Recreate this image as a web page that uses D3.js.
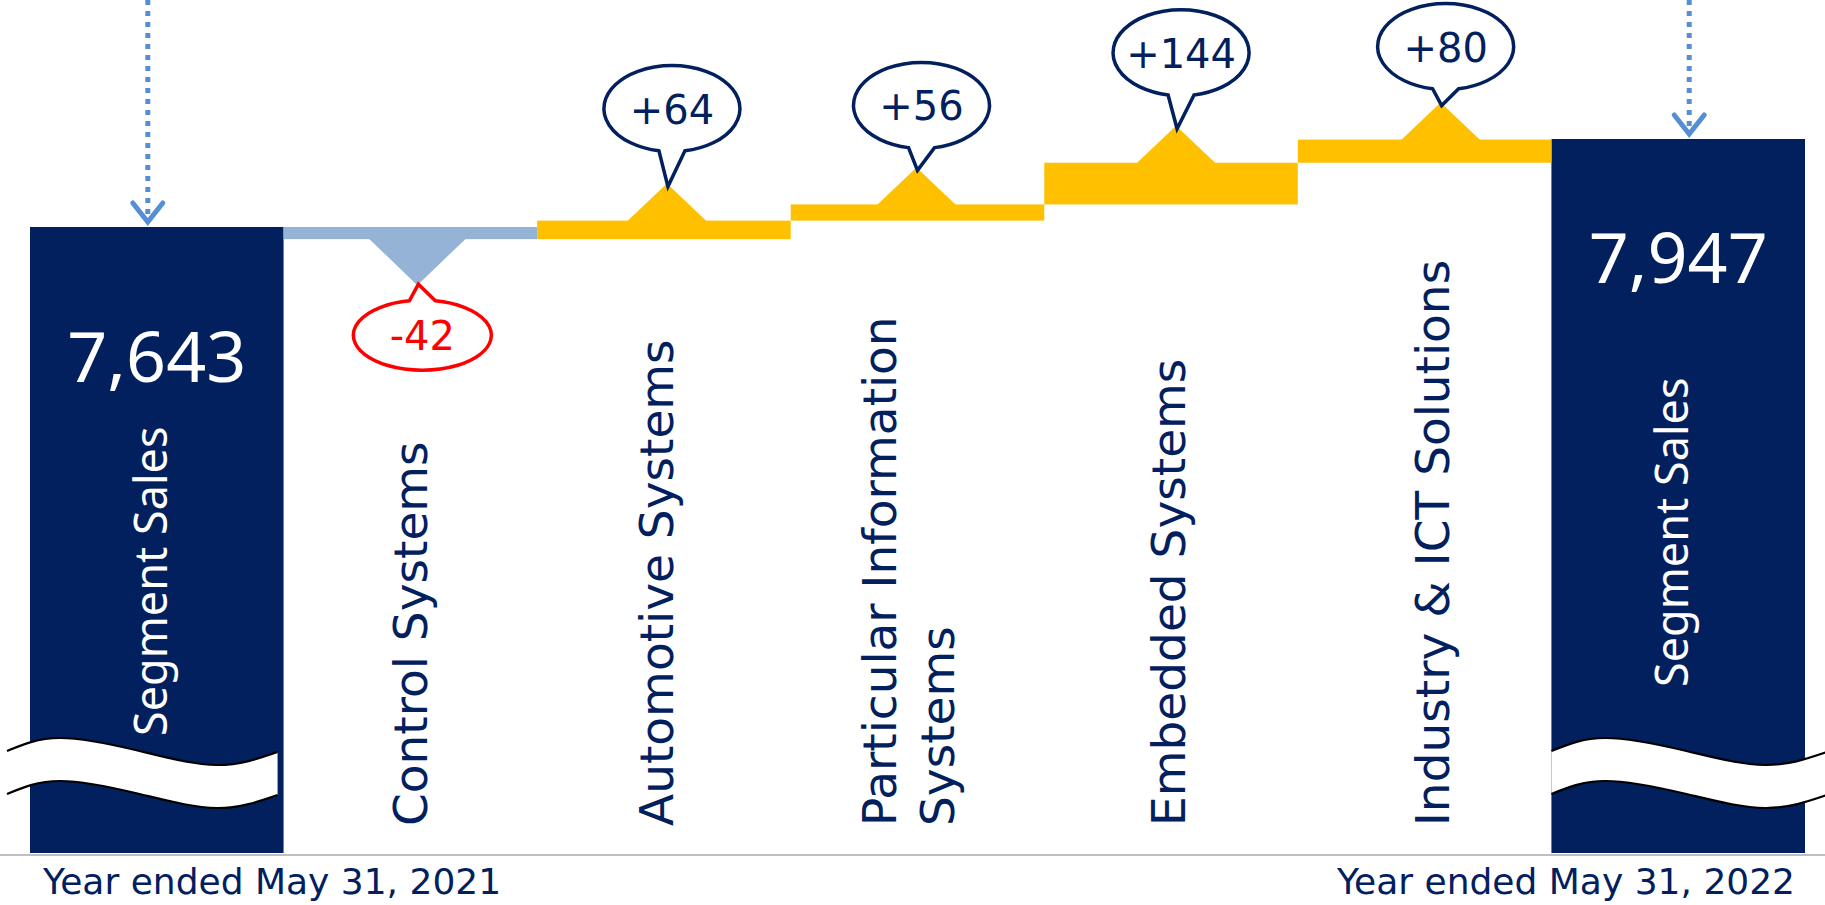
<!DOCTYPE html>
<html>
<head>
<meta charset="utf-8">
<script src="https://cdn.jsdelivr.net/npm/d3@7"></script>
<style>
html, body { margin: 0; padding: 0; background: #fff; overflow: hidden; }
svg { display: block; font-family: "Noto Sans", "Open Sans", sans-serif; }
</style>
</head>
<body>
<script>
// Segment sales bridge, FY2021 -> FY2022
const segments = ['Control Systems', 'Automotive Systems', 'Particular Information Systems', 'Embedded Systems', 'Industry & ICT Solutions'];
const segmentLines = [['Control Systems'], ['Automotive Systems'], ['Particular Information', 'Systems'], ['Embedded Systems'], ['Industry & ICT Solutions']];
const changes = [-42, 64, 56, 144, 80];
const changeLabels = ['-42', '+64', '+56', '+144', '+80'];
const totals = [7643, 7947];
const totalLabels = ['7,643', '7,947'];
const totalName = 'Segment Sales';
const periods = ['Year ended May 31, 2021', 'Year ended May 31, 2022'];

const W = 1825, H = 905;
const NAVY = '#02205e', YELLOW = '#ffc000', LIGHT = '#95b3d7', ARROW = '#558ed5';
const VFONT = '"DejaVu Sans", Verdana, sans-serif';

const svg = d3.select('body').append('svg').attr('width', W).attr('height', H);

// running totals for the floating bars
let run = totals[0];
const steps = changes.map((d, i) => {
    const from = run;
    run += d;
    return { key: segments[i], from, to: run, d, label: changeLabels[i], lines: segmentLines[i], i };
});

const keys = ['start'].concat(segments, ['end']);
const x = d3.scaleBand().domain(keys).range([30, 1805]).padding(0);
const bw = x.bandwidth();
// broken axis: bottom of the plot sits at 5,480
const y = d3.scaleLinear().domain([5480, totals[1]]).range([853, 139]);
const base = y.range()[0];

// layout tweaks
const tipShift = [7, 3, -1, 5, 16];
const bubbleRise = [50, -75, -62, -73, -56];
const labelShift = [0, -8, -9, -3, 7];

// baseline
svg.append('line')
    .attr('x1', 0).attr('x2', W).attr('y1', 855).attr('y2', 855)
    .attr('stroke', '#bfbfbf').attr('stroke-width', 2);

// total bars
const ends = [
    { key: 'start', v: totals[0], label: totalLabels[0], numDy: 155, nameY: 736, arrowDx: -9 },
    { key: 'end', v: totals[1], label: totalLabels[1], numDy: 144, nameY: 687, arrowDx: 11 }
];
svg.selectAll('rect.total').data(ends).join('rect')
    .attr('class', 'total')
    .attr('x', d => x(d.key)).attr('width', bw)
    .attr('y', d => y(d.v)).attr('height', d => base - y(d.v))
    .attr('fill', NAVY);

// floating bars
svg.selectAll('rect.step').data(steps).join('rect')
    .attr('class', 'step')
    .attr('x', d => x(d.key)).attr('width', bw)
    .attr('y', d => y(Math.max(d.from, d.to)))
    .attr('height', d => Math.abs(y(d.from) - y(d.to)))
    .attr('fill', d => d.d < 0 ? LIGHT : YELLOW);

// peak markers
steps.forEach(d => {
    d.tx = x(d.key) + bw / 2 + tipShift[d.i];
    const b = y(d.to);
    if (d.d >= 0) {
        d.ty = b - 37;
        d.tri = [[d.tx - 40, b + 1], [d.tx, d.ty], [d.tx + 40, b + 1]];
    } else {
        d.ty = b + 46;
        d.tri = [[d.tx - 49, b - 1], [d.tx, d.ty], [d.tx + 49, b - 1]];
    }
});
svg.selectAll('path.tri').data(steps).join('path')
    .attr('class', 'tri')
    .attr('d', d => d3.line()(d.tri) + 'Z')
    .attr('fill', d => d.d < 0 ? LIGHT : YELLOW);

// callout bubbles
function bubblePath(cx, cy, rx, ry, tipX, tipY, down) {
    const tw = 13;
    const h = ry * Math.sqrt(1 - (tw / rx) * (tw / rx));
    if (down) {
        return `M${cx + tw},${cy + h} A${rx},${ry} 0 1 0 ${cx - tw},${cy + h} L${tipX},${tipY} Z`;
    }
    return `M${cx - tw},${cy - h} A${rx},${ry} 0 1 0 ${cx + tw},${cy - h} L${tipX},${tipY} Z`;
}
const bubbles = svg.selectAll('g.bubble').data(steps).join('g').attr('class', 'bubble');
bubbles.append('path')
    .attr('d', d => {
        const cx = d.tx + 5, cy = d.ty + bubbleRise[d.i];
        const pos = d.d >= 0;
        return bubblePath(cx, cy, pos ? 68 : 69, pos ? 43 : 35, d.tx + 1, d.ty + (pos ? 3 : -1), pos);
    })
    .attr('fill', '#fff')
    .attr('stroke', d => d.d < 0 ? '#ff0000' : NAVY)
    .attr('stroke-width', 3.5)
    .attr('stroke-linejoin', 'miter');
bubbles.append('text')
    .attr('x', d => d.tx + 5)
    .attr('y', d => d.ty + bubbleRise[d.i] + 15)
    .attr('text-anchor', 'middle')
    .attr('font-family', VFONT)
    .attr('font-size', 40)
    .attr('fill', d => d.d < 0 ? '#ff0000' : NAVY)
    .text(d => d.label);

// segment names
const names = svg.selectAll('g.name').data(steps).join('g')
    .attr('class', 'name')
    .attr('transform', d => `translate(${x(d.key) + bw / 2 + labelShift[d.i]},826) rotate(-90)`);
names.each(function (d) {
    const n = d.lines.length;
    d3.select(this).selectAll('text').data(d.lines).join('text')
        .attr('x', 0)
        .attr('y', (t, j) => (j - (n - 1) / 2) * 58)
        .attr('dy', '0.36em')
        .attr('font-family', VFONT)
        .attr('font-size', 47)
        .attr('fill', NAVY)
        .text(t => t);
});

// totals text
svg.selectAll('text.num').data(ends).join('text')
    .attr('class', 'num')
    .attr('x', d => x(d.key) + bw / 2)
    .attr('y', d => y(d.v) + d.numDy)
    .attr('text-anchor', 'middle')
    .attr('font-size', 70)
    .attr('fill', '#fff')
    .text(d => d.label);
svg.selectAll('text.tname').data(ends).join('text')
    .attr('class', 'tname')
    .attr('transform', d => `translate(${x(d.key) + bw / 2 - 6},${d.nameY}) rotate(-90)`)
    .attr('dy', '0.36em')
    .attr('font-size', 45)
    .attr('fill', '#fff')
    .text(totalName);

// wave breaks
const waveShape = [[0, 0], [0.196, -13], [0.49, 0], [0.775, 14], [1, 1]];
const waveLine = d3.line().curve(d3.curveNatural);
[{ x0: 7, x1: x('start') + bw - 6 }, { x0: x('end'), x1: W + 2 }].forEach(w => {
    const ww = w.x1 - w.x0;
    const top = waveShape.map(p => [w.x0 + p[0] * ww, 751 + p[1]]);
    const bot = waveShape.map(p => [w.x0 + p[0] * ww, 794 + p[1]]);
    const area = waveLine(top) + 'L' + waveLine(bot.slice().reverse()).slice(1) + 'Z';
    svg.append('path').attr('d', area).attr('fill', '#fff');
    [top, bot].forEach(c => svg.append('path')
        .attr('d', waveLine(c)).attr('fill', 'none')
        .attr('stroke', '#000').attr('stroke-width', 2.2));
});

// dotted arrows
ends.forEach(d => {
    const ax = x(d.key) + bw / 2 + d.arrowDx;
    const tip = y(d.v) - 5;
    svg.append('line')
        .attr('x1', ax).attr('x2', ax).attr('y1', 0).attr('y2', tip - 4)
        .attr('stroke', ARROW).attr('stroke-width', 5).attr('stroke-dasharray', '5 6');
    svg.append('path')
        .attr('d', d3.line()([[ax - 15, tip - 19], [ax, tip], [ax + 15, tip - 19]]))
        .attr('fill', 'none').attr('stroke', ARROW).attr('stroke-width', 5)
        .attr('stroke-linecap', 'round');
});

// period labels
svg.append('text').attr('x', 43).attr('y', 894)
    .attr('font-family', VFONT)
    .attr('font-size', 36).attr('fill', NAVY).text(periods[0]);
svg.append('text').attr('x', 1795).attr('y', 894)
    .attr('text-anchor', 'end')
    .attr('font-family', VFONT)
    .attr('font-size', 36).attr('fill', NAVY).text(periods[1]);
</script>
</body>
</html>
